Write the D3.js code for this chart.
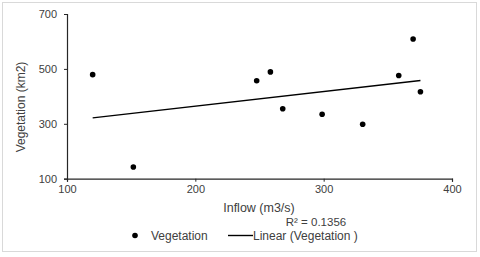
<!DOCTYPE html>
<html><head><meta charset="utf-8">
<script src="https://cdn.jsdelivr.net/npm/d3@7"></script>
<style>html,body{margin:0;padding:0;background:#fff;}svg{display:block;font-family:"Liberation Sans",Arial,sans-serif;}</style>
</head><body>
<svg id="c" width="480" height="257"></svg>
<script>
const inflow = [120, 151.7, 247.8, 258.5, 268.1, 298.8, 330.4, 358.5, 369.7, 375.4];
const vegetation = [479, 142.6, 457, 489, 355, 335, 298.5, 476, 609, 417];
const xTicks = [100, 200, 300, 400];
const yTicks = [100, 300, 500, 700];
const rSquaredLabel = "R² = 0.1356";
const xTitle = "Inflow (m3/s)";
const yTitle = "Vegetation (km2)";
const legendLabels = ["Vegetation", "Linear (Vegetation )"];

const svg = d3.select("#c");
const textColor = "#404040";
svg.append("rect").attr("x", 2.5).attr("y", 2.5).attr("width", 474).attr("height", 249)
  .attr("fill", "#fff").attr("stroke", "#d9d9d9").attr("stroke-width", 1);

const x = d3.scaleLinear().domain([100, 400]).range([67, 452]);
const y = d3.scaleLinear().domain([100, 700]).range([178.7, 14]);

const xAxis = svg.append("g").attr("transform", `translate(0,${y(100)})`)
  .call(d3.axisBottom(x).tickValues(xTicks).tickSize(3).tickPadding(4).tickFormat(d3.format("d")));
const yAxis = svg.append("g").attr("transform", `translate(${x(100)},0)`)
  .call(d3.axisLeft(y).tickValues(yTicks).tickSize(3).tickPadding(7).tickFormat(d3.format("d")));
[xAxis, yAxis].forEach(g => {
  g.select(".domain").attr("stroke", "#262626").attr("stroke-width", 1.2);
  g.selectAll(".tick line").attr("stroke", "#262626");
  g.selectAll("text").attr("fill", textColor).attr("font-size", 11)
    .attr("font-family", "Liberation Sans, Arial, sans-serif");
});

// trendline by least squares
const n = inflow.length;
const mx = d3.mean(inflow), my = d3.mean(vegetation);
let sxy = 0, sxx = 0;
for (let i = 0; i < n; i++) { sxy += (inflow[i]-mx)*(vegetation[i]-my); sxx += (inflow[i]-mx)**2; }
const slope = sxy/sxx, icpt = my - slope*mx;
const [x0, x1] = d3.extent(inflow);
svg.append("line").attr("x1", x(x0)).attr("y1", y(icpt+slope*x0))
  .attr("x2", x(x1)).attr("y2", y(icpt+slope*x1))
  .attr("stroke", "#000").attr("stroke-width", 1.4);

svg.append("g").selectAll("circle").data(inflow).join("circle")
  .attr("cx", d => x(d)).attr("cy", (d, i) => y(vegetation[i])).attr("r", 2.8).attr("fill", "#000");

svg.append("text").attr("x", 259).attr("y", 212).attr("text-anchor", "middle")
  .attr("font-size", 12.5).attr("fill", textColor).text(xTitle);
svg.append("text").attr("transform", "translate(25,107) rotate(-90)").attr("text-anchor", "middle")
  .attr("font-size", 12).attr("fill", textColor).text(yTitle);
svg.append("text").attr("x", 316).attr("y", 226).attr("text-anchor", "middle")
  .attr("font-size", 11.5).attr("fill", textColor).text(rSquaredLabel);

// legend
svg.append("circle").attr("cx", 135).attr("cy", 235.5).attr("r", 2.8).attr("fill", "#000");
svg.append("text").attr("x", 151).attr("y", 239.5).attr("font-size", 12).attr("fill", textColor).text(legendLabels[0]);
svg.append("line").attr("x1", 228).attr("x2", 253).attr("y1", 235.5).attr("y2", 235.5).attr("stroke", "#000").attr("stroke-width", 1.4);
svg.append("text").attr("x", 253).attr("y", 239.5).attr("font-size", 12).attr("fill", textColor).text(legendLabels[1]);
</script>
</body></html>
